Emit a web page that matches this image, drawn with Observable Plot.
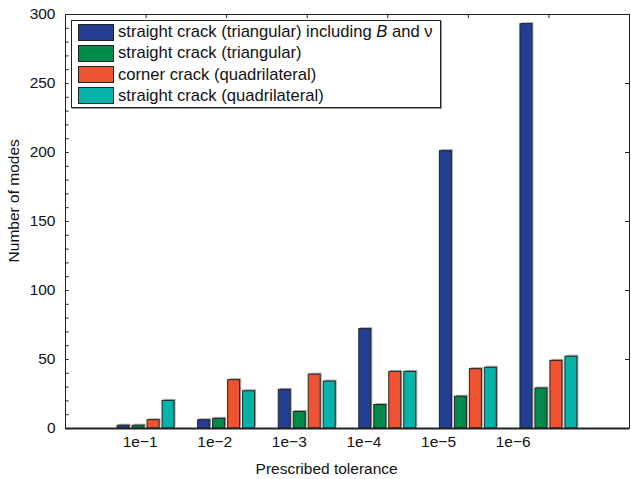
<!DOCTYPE html>
<html>
<head>
<meta charset="utf-8">
<script src="https://cdn.jsdelivr.net/npm/d3@7"></script>
<script src="https://cdn.jsdelivr.net/npm/@observablehq/plot@0.6"></script>
<style>
  body { margin: 0; background: #fff; }
  #wrap { position: relative; width: 631px; height: 479px; font-family: "Liberation Sans", Arial, Helvetica, sans-serif; }
  #legend { position: absolute; left: 71px; top: 20px; width: 368px; height: 86px; border: 1px solid #222; background: #fff; box-shadow: 1px 1px 0 #999; }
  .row { position: absolute; left: 6px; height: 18px; display: flex; align-items: center; font-size: 16.6px; color: #111; white-space: nowrap; }
  .sw { width: 36px; height: 17px; border: 1px solid #222; margin-right: 4px; box-sizing: border-box; }
</style>
</head>
<body>
<div id="wrap"></div>
<script>
const categories = ["1e\u22121", "1e\u22122", "1e\u22123", "1e\u22124", "1e\u22125", "1e\u22126"];
const seriesNames = [
  "straight crack (triangular) including <i>B</i> and \u03bd",
  "straight crack (triangular)",
  "corner crack (quadrilateral)",
  "straight crack (quadrilateral)"
];
const colors = ["#233f94", "#008a4a", "#ef5331", "#05b3a9"];
const triIncl = [2, 6, 28, 72, 201, 293];
const triStraight = [2, 7, 12, 17, 23, 29];
const cornerQuad = [6, 35, 39, 41, 43, 49];
const straightQuad = [20, 27, 34, 41, 44, 52];
const yTicks = [0, 50, 100, 150, 200, 250, 300];
const yMinor = d3.range(0, 301, 10);

const series = [triIncl, triStraight, cornerQuad, straightQuad];
const data = [];
series.forEach((vals, j) => vals.forEach((v, i) => data.push({cat: i, s: j, v})));

const step = 0.186, half = 0.0745;
const labelStep = 0.926;

const chart = Plot.plot({
  width: 631, height: 479,
  marginLeft: 65, marginRight: 2, marginTop: 14, marginBottom: 51,
  style: {fontFamily: "'Liberation Sans', Arial, Helvetica, sans-serif", fontSize: "15px", color: "#111"},
  x: {domain: [0, 7], axis: null},
  y: {domain: [0, 300], axis: null},
  marks: [
    Plot.rectY(data, {x1: d => d.cat + 1 + (d.s - 1.5) * step - half, x2: d => d.cat + 1 + (d.s - 1.5) * step + half,
      y1: 0, y2: "v", fill: "#aaa", dx: 1.5, dy: -1.5}),
    Plot.rectY(data, {x1: d => d.cat + 1 + (d.s - 1.5) * step - half, x2: d => d.cat + 1 + (d.s - 1.5) * step + half,
      y1: 0, y2: "v", fill: d => colors[d.s], stroke: "#222", strokeWidth: 1}),
    Plot.frame({stroke: "#222", strokeWidth: 1}),
    Plot.ruleY([0], {stroke: "#222", strokeWidth: 2}),
    Plot.ruleY(yMinor, {x1: 0, x2: 0.045, stroke: "#222"}),
    Plot.ruleY(yTicks, {x1: 7, x2: 6.95, stroke: "#222"}),
    Plot.ruleX(d3.range(1, 7), {y1: 300, y2: 297, stroke: "#222"}),
    Plot.text(yTicks, {x: 0, y: d => d, text: d => String(d), textAnchor: "end", dx: -10, fontSize: 15.5, fill: "#111"}),
    Plot.text(categories, {x: (d, i) => (i + 1) * labelStep, y: 0, text: d => d, dy: 14, fontSize: 15.5, fill: "#111"}),
    Plot.text(["Prescribed tolerance"], {x: 3.5 * labelStep, y: 0, text: d => d, dy: 41, fontSize: 15.5, fill: "#111"}),
    Plot.text(["Number of modes"], {x: 0, y: 165, text: d => d, rotate: -90, dx: -51, fontSize: 15.5, fill: "#111"})
  ]
});

const wrap = document.getElementById("wrap");
wrap.appendChild(chart);
const legend = document.createElement("div");
legend.id = "legend";
seriesNames.forEach((name, j) => {
  const row = document.createElement("div");
  row.className = "row";
  row.style.top = (2 + j * 21.3) + "px";
  row.innerHTML = `<div class="sw" style="background:${colors[j]}"></div><span>${name}</span>`;
  legend.appendChild(row);
});
wrap.appendChild(legend);
</script>
</body>
</html>
